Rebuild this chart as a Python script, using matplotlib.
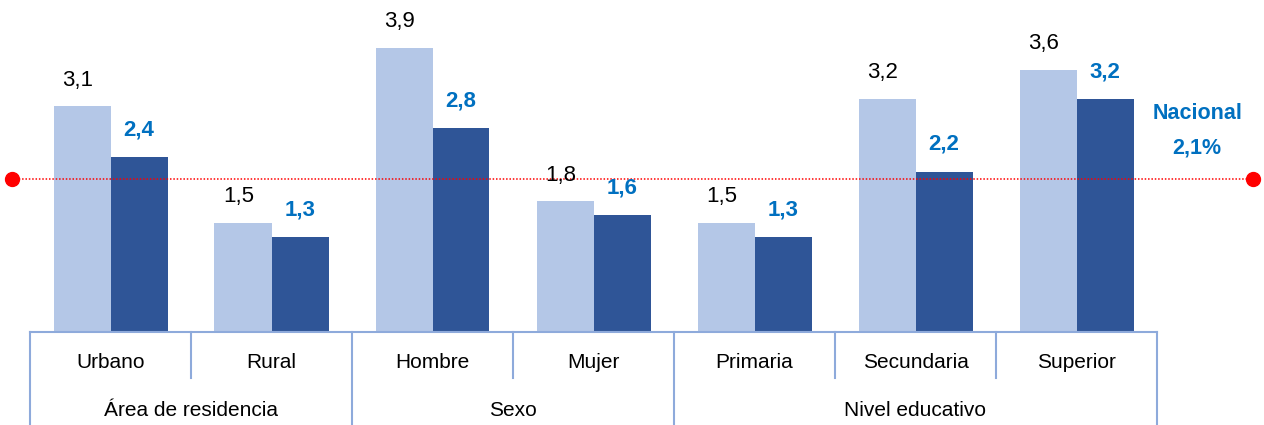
import matplotlib.pyplot as plt
import matplotlib.transforms as mtransforms
from matplotlib import font_manager
import numpy as np

# Data
categorias = ["Urbano", "Rural", "Hombre", "Mujer", "Primaria", "Secundaria", "Superior"]
grupos = ["Área de residencia", "Sexo", "Nivel educativo"]
grupo_tamano = [2, 2, 3]
serie_clara = [3.1, 1.5, 3.9, 1.8, 1.5, 3.2, 3.6]
serie_oscura = [2.4, 1.3, 2.8, 1.6, 1.3, 2.2, 3.2]
nacional = 2.1

names = {f.name for f in font_manager.fontManager.ttflist}
narrow = "Liberation Sans Narrow" if "Liberation Sans Narrow" in names else "Liberation Sans"
plt.rcParams['font.family'] = [narrow, 'DejaVu Sans']

light = "#B4C7E7"
dark = "#2F5597"
blue = "#0070C0"
line_c = "#8EAADB"

W, H = 1264, 425
fig = plt.figure(figsize=(W / 100, H / 100), dpi=100)
scale = 72.9  # px per unit
base = 332
ax = fig.add_axes([30 / W, (H - base) / H, 1127 / W, base / H])
ax.set_xlim(0, len(categorias))
ax.set_ylim(0, base / scale)
ax.axis("off")

x = np.arange(len(categorias)) + 0.5
bw = 57 / 161
ax.bar(x - bw / 2, serie_clara, bw, color=light)
ax.bar(x + bw / 2, serie_oscura, bw, color=dark)

for xi, v in zip(x - bw / 2, serie_clara):
    ax.annotate(f"{v:.1f}".replace(".", ","), (xi, v), xytext=(-3, 11), textcoords="offset points",
                ha="center", va="bottom", fontsize=16, family="Liberation Sans", color="black")
for xi, v in zip(x + bw / 2, serie_oscura):
    ax.annotate(f"{v:.1f}".replace(".", ","), (xi, v), xytext=(0, 12), textcoords="offset points",
                ha="center", va="bottom", fontsize=16, family="Liberation Sans",
                fontweight="bold", color=blue)

# national line
ax.plot([-0.112, 7.596], [nacional, nacional], ls=(0, (1, 1.2)), color="red", lw=1.1, clip_on=False)
ax.plot([-0.112, 7.596], [nacional, nacional], "o", color="red", ms=10, clip_on=False)
ax.text(7.25, 3.0, "Nacional", ha="center", va="center", fontsize=15.5, fontweight="bold", color=blue)
ax.text(7.25, 2.52, "2,1%", ha="center", va="center", fontsize=15.5, fontweight="bold", color=blue)

# category axis
tr = mtransforms.blended_transform_factory(ax.transData, fig.transFigure)
y_axis = (H - base) / H
y_short = (H - 378) / H
ax.plot([0, len(categorias)], [y_axis, y_axis], color=line_c, lw=1.5, transform=tr, clip_on=False)
bounds = np.cumsum([0] + grupo_tamano)
for i in range(len(categorias) + 1):
    y0 = 0 if i in bounds else y_short
    ax.plot([i, i], [y0, y_axis], color=line_c, lw=1.5, transform=tr, clip_on=False)
for xi, c in zip(x, categorias):
    ax.text(xi, (H - 363) / H, c, ha="center", va="center", fontsize=15, transform=tr)
for j, g in enumerate(grupos):
    ax.text((bounds[j] + bounds[j + 1]) / 2, (H - 410) / H, g, ha="center", va="center",
            fontsize=15, transform=tr)

fig.savefig("out.png", dpi=100)
